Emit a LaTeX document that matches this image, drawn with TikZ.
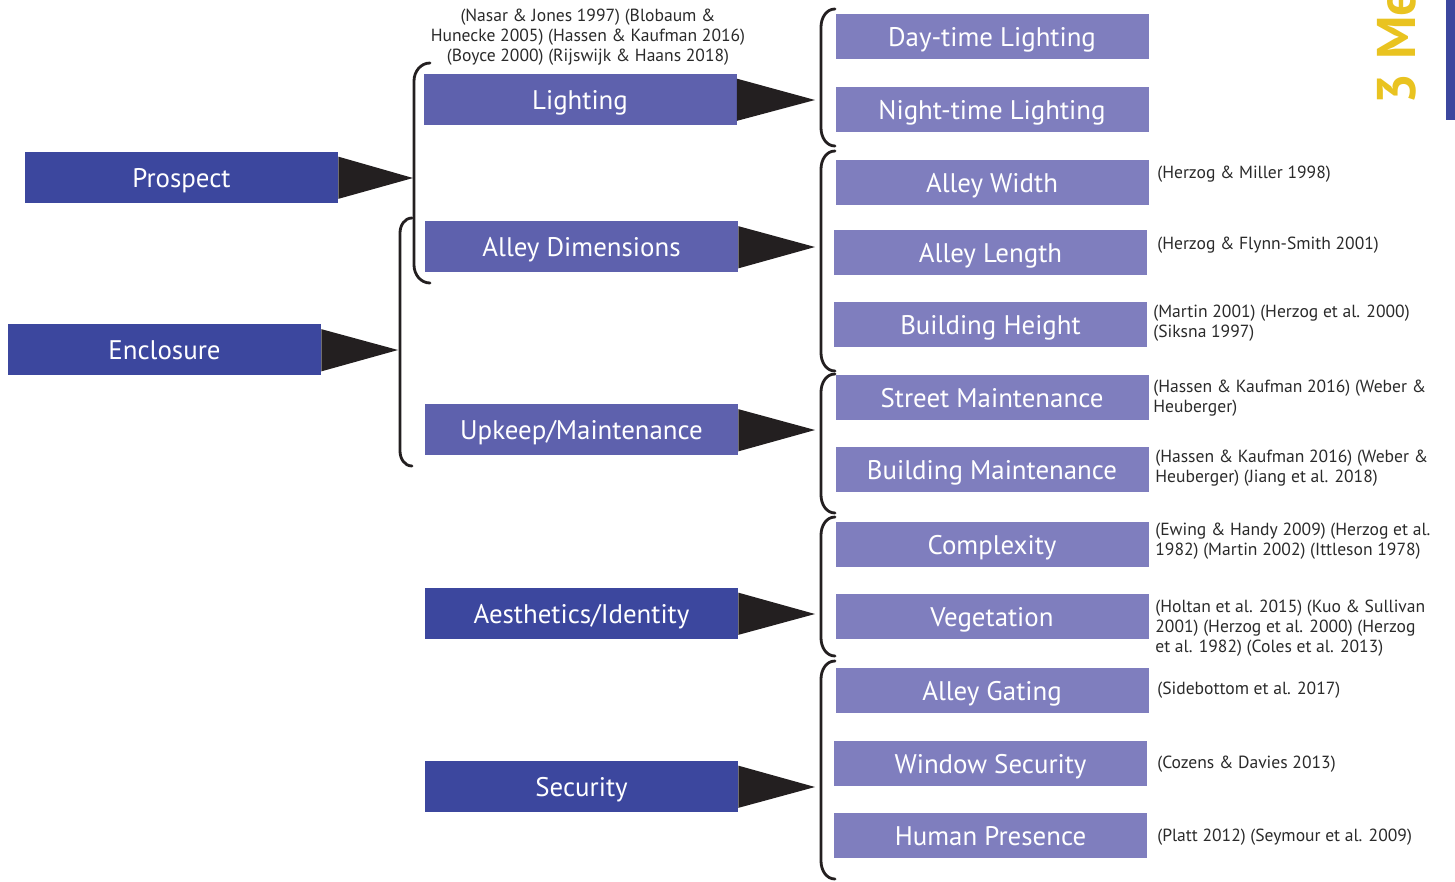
\documentclass[tikz,border=0pt]{standalone}
\usepackage{fontspec}
\setmainfont{PT Sans}
\definecolor{darkbox}{HTML}{3C479E}
\definecolor{midbox}{HTML}{5E61AD}
\definecolor{lightbox}{HTML}{7F7EBE}
\definecolor{tipblack}{HTML}{231F20}
\definecolor{gold}{HTML}{E9C320}
\definecolor{citetext}{HTML}{2A2A2A}

% bracket: x, top, bottom, hook width, hook height
\newcommand\groupbrace[5]{%
  \draw[brace] ({#1+#4},#2) to[out=180,in=90] (#1,{#2+#5}) -- (#1,{#3-#5})
    to[out=-90,in=180] ({#1+#4},#3);}

\begin{document}
\begin{tikzpicture}[x=0.2mm,y=-0.2mm,
  box/.style={rectangle, inner sep=0pt, text=white,
    font=\fontsize{15.3}{18}\selectfont, text height=1.2em, text depth=0.05em},
  catbox/.style={box, fill=darkbox, minimum width=62.6mm, minimum height=10.2mm},
  subbox/.style={box, fill=midbox, minimum width=62.6mm, minimum height=10.2mm},
  itembox/.style={box, fill=lightbox, minimum width=62.6mm, minimum height=9mm},
  cite/.style={font=\fontsize{10}{11.4}\selectfont, text=citetext, align=left,
    anchor=north west, inner sep=0pt},
  pointer/.style={fill=tipblack},
  brace/.style={draw=tipblack, line width=1.6pt, line cap=round}]
\useasboundingbox (0,0) rectangle (1455,881);

% top-level categories
\node[catbox] (prospect)  at (181.5,177)   {Prospect};
\node[catbox] (enclosure) at (164.5,349.5) {Enclosure};

% second-level factors
\node[subbox]  (lighting) at (580,99)      {Lighting};
\node[subbox]  (alleydim) at (581.5,246.5) {Alley Dimensions};
\node[subbox]  (upkeep)   at (581.5,429.5) {Upkeep/Maintenance};
\node[catbox]  (aesth)    at (581.5,613)   {Aesthetics/Identity};
\node[catbox]  (security) at (581.5,786)   {Security};

% third-level attributes
\node[itembox] (day)      at (992,36.5)    {Day-time Lighting};
\node[itembox] (night)    at (992,109.5)   {Night-time Lighting};
\node[itembox] (width)    at (992,182)     {Alley Width};
\node[itembox] (length)   at (990.5,252.5) {Alley Length};
\node[itembox] (height)   at (990.5,324.5) {Building Height};
\node[itembox] (street)   at (992,397.5)   {Street Maintenance};
\node[itembox] (bmaint)   at (992,469.5)   {Building Maintenance};
\node[itembox] (complex)  at (992,544.5)   {Complexity};
\node[itembox] (veg)      at (992,616.5)   {Vegetation};
\node[itembox] (gating)   at (992,690.5)   {Alley Gating};
\node[itembox] (window)   at (990.5,763.5) {Window Security};
\node[itembox] (human)    at (990.5,835.5) {Human Presence};

% pointer tips
\coordinate (tProspect)  at (413,178);
\coordinate (tEnclosure) at (398,350);
\coordinate (tLighting)  at (815,100);
\coordinate (tAlleydim)  at (815,247);
\coordinate (tUpkeep)    at (815,430);
\coordinate (tAesth)     at (815,614);
\coordinate (tSecurity)  at (815,787);

\foreach \b/\t in {prospect/tProspect, enclosure/tEnclosure, lighting/tLighting,
                   alleydim/tAlleydim, upkeep/tUpkeep, aesth/tAesth, security/tSecurity}
  \fill[pointer] ([yshift=-1.1mm]\b.north east) -- (\t) -- ([yshift=0.8mm]\b.south east) -- cycle;

% brackets grouping the factors
\groupbrace{414}{63}{283}{16}{18}
\groupbrace{400}{218}{466}{12}{15}
\groupbrace{821}{9}{146}{14}{18}
\groupbrace{821}{151}{371}{14}{18}
\groupbrace{821}{374}{513}{14}{18}
\groupbrace{821}{517}{656}{14}{18}
\groupbrace{821}{661}{879}{14}{18}

% references
\node[cite, align=center, anchor=north] (cLighting) at (588,9)
  {(Nasar \& Jones 1997) (Blobaum \&\\Hunecke 2005) (Hassen \& Kaufman 2016)\\(Boyce 2000) (Rijswijk \& Haans 2018)};
\node[cite] (cWidth)   at (1157,166) {(Herzog \& Miller 1998)};
\node[cite] (cLength)  at (1157,237) {(Herzog \& Flynn-Smith 2001)};
\node[cite] (cHeight)  at (1153,305) {(Martin 2001) (Herzog et al. 2000)\\(Siksna 1997)};
\node[cite] (cStreet)  at (1153,380) {(Hassen \& Kaufman 2016) (Weber \&\\Heuberger)};
\node[cite] (cBmaint)  at (1155,450) {(Hassen \& Kaufman 2016) (Weber \&\\Heuberger) (Jiang et al. 2018)};
\node[cite] (cComplex) at (1155,523) {(Ewing \& Handy 2009) (Herzog et al.\\1982) (Martin 2002) (Ittleson 1978)};
\node[cite] (cVeg)     at (1155,600) {(Holtan et al. 2015) (Kuo \& Sullivan\\2001) (Herzog et al. 2000) (Herzog\\et al. 1982) (Coles et al. 2013)};
\node[cite] (cGating)  at (1157,682) {(Sidebottom et al. 2017)};
\node[cite] (cWindow)  at (1157,756) {(Cozens \& Davies 2013)};
\node[cite] (cHuman)   at (1157,829) {(Platt 2012) (Seymour et al. 2009)};

% section marker at the page edge
\begin{scope}
  \clip (0,0) rectangle (1455,881);
  \node[rotate=90, anchor=base west, inner sep=0pt, text=gold,
        font=\fontsize{31}{31}\selectfont\bfseries] (section) at (1415,105) {3 Me};
  \fill[darkbox] (1446,0) rectangle (1455,120);
\end{scope}
\end{tikzpicture}
\end{document}
